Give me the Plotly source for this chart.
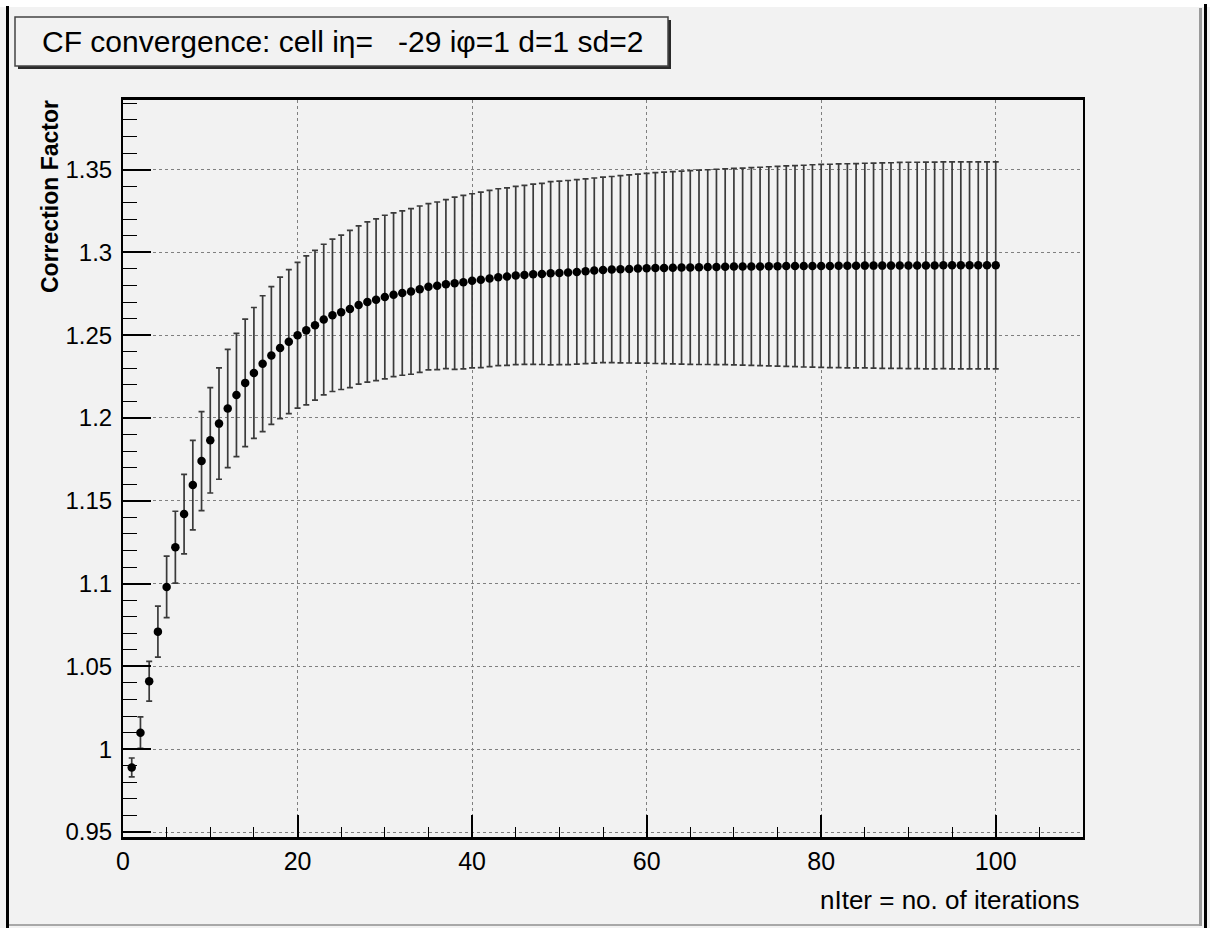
import plotly.graph_objects as go

# ---------------- data ----------------
n_iter = list(range(1, 101))

cf_value = [
    0.989, 1.010, 1.041, 1.071, 1.098, 1.122, 1.142, 1.1595, 1.174, 1.1865,
    1.1966, 1.2057, 1.2139, 1.2212, 1.2272, 1.2328, 1.2377, 1.2423, 1.2461, 1.2500,
    1.2529, 1.2560, 1.2594, 1.2620, 1.2638, 1.2658, 1.2682, 1.2700, 1.2714, 1.2730,
    1.2744, 1.2754, 1.2764, 1.2778, 1.2792, 1.2798, 1.2808, 1.2814, 1.2820, 1.2828,
    1.2834, 1.2842, 1.2850, 1.2854, 1.2860, 1.2864, 1.2868, 1.2870, 1.2874, 1.2876,
    1.2878, 1.2882, 1.2886, 1.2890, 1.2894, 1.2896, 1.2898, 1.2900, 1.2902, 1.2904,
    1.2905, 1.2906, 1.2907, 1.2908, 1.2909, 1.2910, 1.2911, 1.2912, 1.2913, 1.2914,
    1.2914, 1.2915, 1.2915, 1.2916, 1.2916, 1.2917, 1.2917, 1.2917, 1.2918, 1.2918,
    1.2918, 1.2919, 1.2919, 1.2919, 1.2920, 1.2920, 1.2920, 1.2920, 1.2921, 1.2921,
    1.2921, 1.2921, 1.2921, 1.2922, 1.2922, 1.2922, 1.2922, 1.2922, 1.2922, 1.2922,
]

cf_error = [
    0.0057, 0.0095, 0.0120, 0.0154, 0.0186, 0.0217, 0.0240, 0.0270, 0.0299, 0.0318,
    0.0336, 0.0357, 0.0372, 0.0385, 0.0395, 0.0410, 0.0416, 0.0427, 0.0435, 0.0440,
    0.0450, 0.0452, 0.0455, 0.0460, 0.0466, 0.0475, 0.0478, 0.0484, 0.0488, 0.0494,
    0.0494, 0.0496, 0.0500, 0.0502, 0.0502, 0.0506, 0.0510, 0.0520, 0.0524, 0.0526,
    0.0530, 0.0532, 0.0534, 0.0536, 0.0538, 0.0540, 0.0544, 0.0547, 0.0553, 0.0554,
    0.0556, 0.0557, 0.0558, 0.0559, 0.0560, 0.0562, 0.0565, 0.0568, 0.0571, 0.0573,
    0.0576, 0.0578, 0.0580, 0.0583, 0.0585, 0.0587, 0.0588, 0.0590, 0.0591, 0.0593,
    0.0595, 0.0597, 0.0599, 0.0601, 0.0603, 0.0605, 0.0607, 0.0609, 0.0611, 0.0613,
    0.0614, 0.0615, 0.0616, 0.0617, 0.0618, 0.0619, 0.0620, 0.0621, 0.0622, 0.0623,
    0.0623, 0.0624, 0.0624, 0.0624, 0.0625, 0.0625, 0.0625, 0.0625, 0.0625, 0.0625,
]

x_tick_vals = [0, 20, 40, 60, 80, 100]
x_tick_text = ["0", "20", "40", "60", "80", "100"]
y_tick_vals = [0.95, 1.0, 1.05, 1.1, 1.15, 1.2, 1.25, 1.3, 1.35]
y_tick_text = ["0.95", "1", "1.05", "1.1", "1.15", "1.2", "1.25", "1.3", "1.35"]

title_text = "CF convergence: cell i\u03b7=\u00a0\u00a0 -29 i\u03c6=1 d=1 sd=2"
y_title = "Correction Factor"
x_title = "nIter = no. of iterations"

# ---------------- layout geometry ----------------
W, H = 1210, 928
L, R, T, B = 123, 1083, 100, 837   # plot area in pixels


def px(p):
    return (p - L) / (R - L)


def py(p):
    return (B - p) / (B - T)


FONT = "Liberation Sans, Arial, sans-serif"
BG = "#f2f2f2"

fig = go.Figure()
fig.add_trace(go.Scatter(
    x=n_iter, y=cf_value, mode="markers",
    marker=dict(color="black", size=8.5, symbol="circle"),
    error_y=dict(type="data", array=cf_error, visible=True,
                 color="#3a3a3a", thickness=1.7, width=3),
    showlegend=False,
))

fig.update_layout(
    width=W, height=H,
    margin=dict(l=L, r=W - R, t=T, b=H - B, pad=0),
    paper_bgcolor=BG, plot_bgcolor=BG,
    font=dict(family=FONT, color="black"),
    showlegend=False,
)

fig.update_xaxes(
    range=[0, 110], tickmode="array", tickvals=x_tick_vals, ticktext=x_tick_text,
    ticks="inside", ticklen=22, tickwidth=1.5, tickcolor="black",
    minor=dict(dtick=5, ticks="inside", ticklen=10, tickwidth=1.2, tickcolor="black", showgrid=False),
    showline=True, linecolor="black", linewidth=3, mirror=True,
    showgrid=True, gridcolor="#808080", griddash="dot", gridwidth=1.3,
    tickfont=dict(size=25, family=FONT, color="black"),
    zeroline=False,
)
fig.update_yaxes(
    range=[0.947, 1.392], tickmode="array", tickvals=y_tick_vals, ticktext=y_tick_text,
    ticks="inside", ticklen=28, tickwidth=1.5, tickcolor="black",
    minor=dict(dtick=0.01, tick0=0.95, ticks="inside", ticklen=14, tickwidth=1.2, tickcolor="black", showgrid=False),
    showline=True, linecolor="black", linewidth=2, mirror=True,
    showgrid=True, gridcolor="#808080", griddash="dot", gridwidth=1.3,
    tickfont=dict(size=24, family=FONT, color="black"),
    ticklabelstandoff=4,
    zeroline=False,
)

shapes = []
# canvas borders
shapes.append(dict(type="rect", xref="paper", yref="paper", x0=px(0), x1=px(W), y0=py(0), y1=py(7),
                   fillcolor="white", line=dict(width=0), layer="below"))
shapes.append(dict(type="rect", xref="paper", yref="paper", x0=px(6), x1=px(9), y0=py(6), y1=py(H),
                   fillcolor="black", line=dict(width=0)))
shapes.append(dict(type="rect", xref="paper", yref="paper", x0=px(1199), x1=px(1202), y0=py(8), y1=py(926),
                   fillcolor="#9a9a9a", line=dict(width=0)))
shapes.append(dict(type="rect", xref="paper", yref="paper", x0=px(1204), x1=px(1207), y0=py(4), y1=py(H),
                   fillcolor="black", line=dict(width=0)))
shapes.append(dict(type="rect", xref="paper", yref="paper", x0=px(9), x1=px(1199), y0=py(924), y1=py(926),
                   fillcolor="#a8a8a8", line=dict(width=0)))
# title box shadow + box
shapes.append(dict(type="rect", xref="paper", yref="paper", x0=px(18), x1=px(671), y0=py(20), y1=py(69),
                   fillcolor="#2a2a2a", line=dict(width=0)))
shapes.append(dict(type="rect", xref="paper", yref="paper", x0=px(15), x1=px(668), y0=py(17), y1=py(66),
                   fillcolor=BG, line=dict(color="#444444", width=1.5)))
fig.update_layout(shapes=shapes)

annotations = [
    dict(text=title_text, xref="paper", yref="paper", x=px(342), y=py(42),
         xanchor="center", yanchor="middle", showarrow=False,
         font=dict(size=30, family=FONT, color="black")),
    dict(text="<b>" + y_title + "</b>", xref="paper", yref="paper", x=px(50), y=py(197),
         xanchor="center", yanchor="middle", textangle=-90, showarrow=False,
         font=dict(size=23, family=FONT, color="black")),
    dict(text=x_title, xref="paper", yref="paper", x=px(1081), y=py(900),
         xanchor="right", yanchor="middle", showarrow=False,
         font=dict(size=26, family=FONT, color="black")),
]
fig.update_layout(annotations=annotations)

fig.write_html("out.html",
               config={"displayModeBar": False},
               post_script="document.body.style.margin='0';document.body.style.overflow='hidden';")
